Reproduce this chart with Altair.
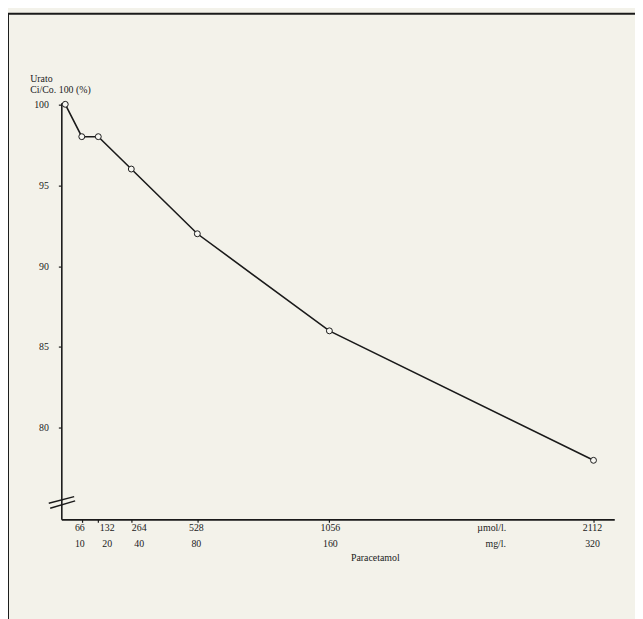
import altair as alt
import pandas as pd

# data
umol = [0, 66, 132, 264, 528, 1056, 2112]          # Paracetamol, µmol/l
mg = [0, 10, 20, 40, 80, 160, 320]                 # Paracetamol, mg/l
urato = [100, 98, 98, 96, 92, 86, 78]              # Urato Ci/Co.100 (%)
y_ticks = [80, 85, 90, 95, 100]
umol_tick_labels = ["66", "132", "264", "528", "1056", "2112"]
mg_tick_labels = ["10", "20", "40", "80", "160", "320"]

PAPER = "#f3f2ea"
INK = "#1a1a1a"
FONT = "Liberation Serif"
FS = 10

df = pd.DataFrame({"umol": umol, "mg": mg, "urato": urato})
ticks = pd.DataFrame({"umol": umol[1:], "ulab": umol_tick_labels, "mlab": mg_tick_labels})

xs = alt.Scale(domain=[-15.8, 2195], nice=False, zero=False)
ys = alt.Scale(domain=[74.35, 100.1], nice=False, zero=False)

xaxis = alt.Axis(values=umol[1:], labels=False, title=None, tickSize=3, tickColor=INK,
                 domainColor=INK, domainWidth=2, tickWidth=1.2, grid=False)
yaxis = alt.Axis(values=y_ticks, tickSize=3, tickColor=INK, tickWidth=1.2,
                 domainColor=INK, domainWidth=1.6, grid=False,
                 labelFont=FONT, labelFontSize=FS, labelColor=INK, labelPadding=10,
                 title=["Urato", "Ci/Co. 100 (%)"], titleAngle=0, titleAlign="left",
                 titleBaseline="top", titleX=-32, titleY=-29, titleFont=FONT,
                 titleFontSize=FS, titleFontWeight="normal", titleColor=INK, titleLineHeight=11)

line = alt.Chart(df).mark_line(color=INK, strokeWidth=1.6, clip=False).encode(
    x=alt.X("umol:Q", scale=xs, axis=xaxis),
    y=alt.Y("urato:Q", scale=ys, axis=yaxis),
)
pts = alt.Chart(df).mark_point(shape="circle", size=36, filled=True, fill="#f7f7f2",
                               stroke=INK, strokeWidth=1, clip=False, opacity=1).encode(
    x=alt.X("umol:Q", scale=xs),
    y=alt.Y("urato:Q", scale=ys),
)

# tick label rows (nudged like in the original typesetting)
nudges = [-2, 9, 8, -1, 1, -1]
label_layers = []
for i, dx in enumerate(nudges):
    base = alt.Chart(ticks.iloc[[i]])
    label_layers.append(base.mark_text(font=FONT, fontSize=FS, color=INK, dx=dx, baseline="middle").encode(
        x=alt.X("umol:Q", scale=xs), y=alt.value(431), text="ulab:N"))
    label_layers.append(base.mark_text(font=FONT, fontSize=FS, color=INK, dx=dx, baseline="middle").encode(
        x=alt.X("umol:Q", scale=xs), y=alt.value(447), text="mlab:N"))

unit1 = alt.Chart(pd.DataFrame({"t": ["µmol/l."]})).mark_text(font=FONT, fontSize=FS, color=INK, baseline="middle").encode(
    x=alt.value(436), y=alt.value(431), text="t:N")
unit2 = alt.Chart(pd.DataFrame({"t": ["mg/l."]})).mark_text(font=FONT, fontSize=FS, color=INK, baseline="middle").encode(
    x=alt.value(440), y=alt.value(447), text="t:N")
xtitle = alt.Chart(pd.DataFrame({"t": ["Paracetamol"]})).mark_text(font=FONT, fontSize=FS, color=INK, baseline="middle").encode(
    x=alt.value(318), y=alt.value(461), text="t:N")

# axis break marks
brk1 = alt.Chart(pd.DataFrame({"a": [0]})).mark_rule(color=INK, strokeWidth=1.4).encode(
    x=alt.value(-12.7), y=alt.value(405.7), x2=alt.value(13), y2=alt.value(399))
brk2 = alt.Chart(pd.DataFrame({"a": [0]})).mark_rule(color=INK, strokeWidth=1.4).encode(
    x=alt.value(-11.3), y=alt.value(410.7), x2=alt.value(14), y2=alt.value(403.3))

# frame of the printed figure
frame_top = alt.Chart(pd.DataFrame({"a": [0]})).mark_rule(color=INK, strokeWidth=2).encode(
    x=alt.value(-54), x2=alt.value(600), y=alt.value(-90))
frame_left = alt.Chart(pd.DataFrame({"a": [0]})).mark_rule(color=INK, strokeWidth=2).encode(
    x=alt.value(-54), y=alt.value(-90), y2=alt.value(540))

chart = alt.layer(frame_top, frame_left, line, pts, *label_layers, unit1, unit2, xtitle, brk1, brk2).properties(
    width=560, height=422,
    padding={"left": 54, "top": 92, "right": 21, "bottom": 97},
    autosize=alt.AutoSizeParams(type="none"),
    background=PAPER,
).configure_view(stroke=None)

chart.save("out.html", embed_options={"renderer": "svg", "actions": False})
